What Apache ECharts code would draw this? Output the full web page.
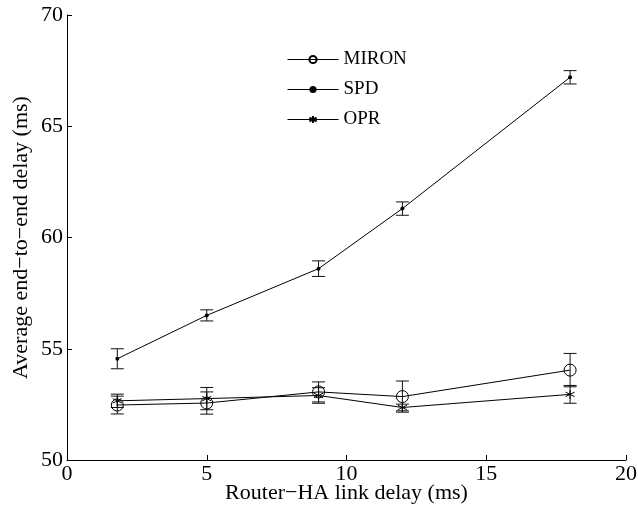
<!DOCTYPE html>
<html>
<head>
<meta charset="utf-8">
<script src="https://cdn.jsdelivr.net/npm/echarts@6/dist/echarts.min.js"></script>
<style>
  html, body { margin: 0; padding: 0; background: #fff; }
  #main { width: 638px; height: 510px; }
</style>
</head>
<body>
<div id="main"></div>
<script>
var xDelay = [1.8, 5, 9, 12, 18];
var mironMean = [52.47, 52.56, 53.06, 52.85, 54.04];
var mironErr = [0.4, 0.5, 0.45, 0.7, 0.75];
var spdMean = [54.55, 56.5, 58.6, 61.3, 67.2];
var spdErr = [0.45, 0.25, 0.35, 0.3, 0.3];
var oprMean = [52.66, 52.76, 52.9, 52.36, 52.95];
var oprErr = [0.3, 0.5, 0.35, 0.15, 0.4];

var chartDom = document.getElementById('main');
var myChart = echarts.init(chartDom);
var option;

var serif = 'Liberation Serif';
var asterisk = 'path://M0,-1L0,1M-0.87,-0.5L0.87,0.5M-0.87,0.5L0.87,-0.5';

function pairs(ys) {
  return xDelay.map(function (x, i) { return [x, ys[i]]; });
}
function bars(ys, es) {
  return xDelay.map(function (x, i) { return [x, ys[i] - es[i], ys[i] + es[i]]; });
}

function renderBar(params, api) {
  var lo = api.coord([api.value(0), api.value(1)]);
  var hi = api.coord([api.value(0), api.value(2)]);
  var w = 6.5;
  var st = { stroke: '#111', lineWidth: 1 };
  return {
    type: 'group',
    children: [
      { type: 'line', shape: { x1: lo[0], y1: lo[1], x2: hi[0], y2: hi[1] }, style: st },
      { type: 'line', shape: { x1: lo[0] - w, y1: lo[1], x2: lo[0] + w, y2: lo[1] }, style: st },
      { type: 'line', shape: { x1: hi[0] - w, y1: hi[1], x2: hi[0] + w, y2: hi[1] }, style: st }
    ]
  };
}

function errSeries(ys, es) {
  return {
    type: 'custom',
    renderItem: renderBar,
    data: bars(ys, es),
    encode: { x: 0, y: [1, 2] },
    silent: true,
    z: 1
  };
}

option = {
  animation: false,
  backgroundColor: '#fff',
  grid: { left: 67, right: 12, top: 15, bottom: 50, containLabel: false, outerBoundsMode: 'none' },
  legend: {
    data: ['MIRON', 'SPD', 'OPR'],
    orient: 'vertical',
    left: 282,
    top: 45,
    itemWidth: 51,
    itemHeight: 9,
    itemGap: 11,
    lineStyle: { width: 1 },
    textStyle: { fontFamily: serif, fontSize: 19, color: '#000' }
  },
  xAxis: {
    type: 'value',
    min: 0,
    max: 20,
    interval: 5,
    name: 'Router\u2212HA link delay (ms)',
    nameLocation: 'middle',
    nameGap: 22,
    nameMoveOverlap: false,
    nameTextStyle: { fontFamily: serif, fontSize: 22, color: '#000' },
    axisLine: { lineStyle: { color: '#000' } },
    axisTick: { inside: true, length: 5, lineStyle: { color: '#000' } },
    axisLabel: { fontFamily: serif, fontSize: 22, color: '#000', margin: 3 },
    splitLine: { show: false }
  },
  yAxis: {
    type: 'value',
    min: 50,
    max: 70,
    interval: 5,
    name: 'Average end\u2212to\u2212end delay (ms)',
    nameLocation: 'middle',
    nameGap: 35,
    nameMoveOverlap: false,
    nameTextStyle: { fontFamily: serif, fontSize: 22, color: '#000' },
    axisLine: { show: true, lineStyle: { color: '#000' } },
    axisTick: { show: true, inside: true, length: 5, lineStyle: { color: '#000' } },
    axisLabel: { fontFamily: serif, fontSize: 22, color: '#000', margin: 4 },
    splitLine: { show: false }
  },
  series: [
    {
      name: 'MIRON',
      type: 'line',
      data: pairs(mironMean),
      symbol: 'circle',
      symbolSize: 12,
      lineStyle: { color: '#000', width: 1 },
      itemStyle: { color: 'transparent', borderColor: '#000', borderWidth: 1 },
      z: 3
    },
    {
      name: 'SPD',
      type: 'line',
      data: pairs(spdMean),
      symbol: 'circle',
      symbolSize: 4,
      lineStyle: { color: '#000', width: 1 },
      itemStyle: { color: '#000', borderColor: '#000', borderWidth: 0 },
      z: 3
    },
    {
      name: 'OPR',
      type: 'line',
      data: pairs(oprMean),
      symbol: asterisk,
      symbolSize: 9,
      lineStyle: { color: '#000', width: 1 },
      itemStyle: { color: '#000', borderColor: '#000', borderWidth: 1 },
      z: 3
    },
    errSeries(mironMean, mironErr),
    errSeries(spdMean, spdErr),
    errSeries(oprMean, oprErr)
  ]
};

option && myChart.setOption(option);
</script>
</body>
</html>
